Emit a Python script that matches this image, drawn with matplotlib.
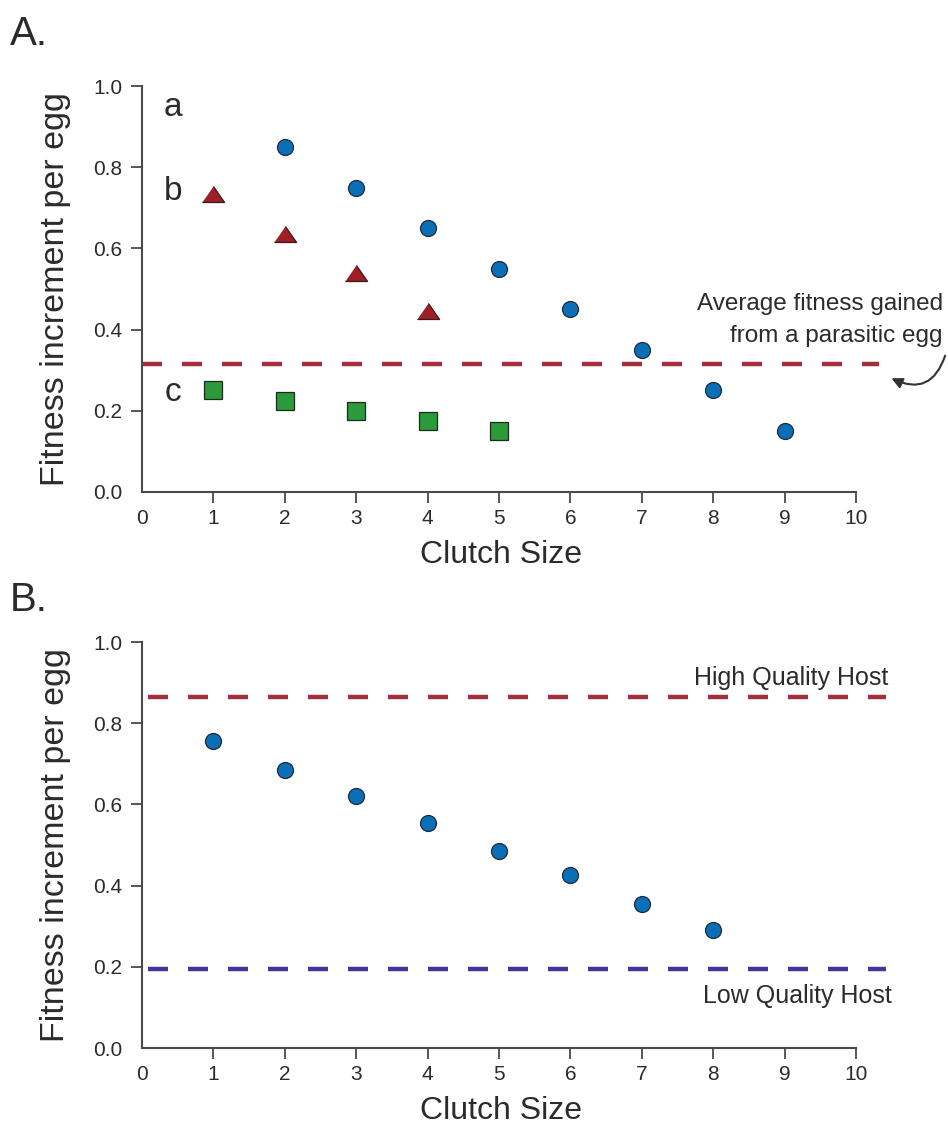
import matplotlib
matplotlib.use("Agg")
import matplotlib.pyplot as plt

# panel A data
a_x = [2, 3, 4, 5, 6, 7, 8, 9]
a_y = [0.85, 0.75, 0.65, 0.55, 0.45, 0.35, 0.25, 0.15]
b_x = [1, 2, 3, 4]
b_y = [0.735, 0.635, 0.54, 0.445]
c_x = [1, 2, 3, 4, 5]
c_y = [0.25, 0.225, 0.2, 0.175, 0.15]
parasitic_avg = 0.315

# panel B data
host_x = [1, 2, 3, 4, 5, 6, 7, 8]
host_y = [0.755, 0.685, 0.62, 0.555, 0.485, 0.425, 0.355, 0.29]
high_host = 0.865
low_host = 0.195

x_ticks = list(range(0, 11))
y_ticks = [0.0, 0.2, 0.4, 0.6, 0.8, 1.0]

plt.rcParams["font.family"] = ["Liberation Sans", "DejaVu Sans"]

W, H = 948, 1126
fig = plt.figure(figsize=(W / 100, H / 100), dpi=100)

BLUE = "#0b6fb8"
RED = "#9e1f26"
GREEN = "#2a9a3a"
RED_LINE = "#a2303a"
BLUE_LINE = "#42369a"
AX_COL = "#4a4a4a"
TXT = "#2b2b2b"

ax_a = fig.add_axes([142 / W, 1 - 492 / H, 737 / W, 406 / H])
ax_b = fig.add_axes([142 / W, 1 - 1048 / H, 744 / W, 406 / H])


def style_axes(ax, xmax):
    ax.set_xlim(0, xmax)
    ax.set_ylim(0, 1.0)
    for s in ["top", "right"]:
        ax.spines[s].set_visible(False)
    for s in ["left", "bottom"]:
        ax.spines[s].set_color(AX_COL)
        ax.spines[s].set_linewidth(1.5)
    ax.spines["bottom"].set_bounds(0, 10)
    ax.spines["left"].set_bounds(0, 1.0)
    ax.set_xticks(x_ticks)
    ax.set_yticks(y_ticks)
    ax.set_yticklabels([f"{v:.1f}" for v in y_ticks])
    ax.tick_params(axis="both", direction="out", length=8, width=1.3,
                   color=AX_COL, labelsize=15, labelcolor=TXT)
    ax.tick_params(axis="y", pad=6)
    ax.tick_params(axis="x", pad=4)
    ax.yaxis.get_major_ticks()[0].tick1line.set_visible(False)
    ax.xaxis.get_major_ticks()[0].tick1line.set_visible(False)
    ax.set_xlabel("Clutch Size", fontsize=23, color=TXT)
    ax.xaxis.label.set_va("baseline")
    ax.xaxis.set_label_coords(359 / (xmax * 71.4), -71 / 406)
    ax.set_ylabel("Fitness increment per egg", fontsize=24.5, color=TXT)
    ax.yaxis.label.set_va("baseline")
    ax.yaxis.set_label_coords(-78 / (xmax * 71.4), 0.5)


style_axes(ax_a, 10.32)
style_axes(ax_b, 10.42)

# ---- panel A ----
dash_lw = 3.2
ax_a.axhline(parasitic_avg, color=RED_LINE, lw=dash_lw,
             linestyle=(0, (4.5, 4.5)), zorder=1)
ax_a.plot(a_x, a_y, linestyle="none", marker="o", markersize=11.5,
          markerfacecolor=BLUE, markeredgecolor="#1d2a3a", markeredgewidth=0.9,
          zorder=3)
tri = [(-1, -0.72), (1, -0.72), (0, 0.72)]
ax_a.plot(b_x, b_y, linestyle="none", marker=tri, markersize=16,
          markerfacecolor=RED, markeredgecolor="#3a1a1a", markeredgewidth=0.9,
          zorder=3)
ax_a.plot(c_x, c_y, linestyle="none", marker="s", markersize=12.5,
          markerfacecolor=GREEN, markeredgecolor="#1f2a1f", markeredgewidth=0.9,
          zorder=3)

ax_a.text(0.43, 0.948, "a", fontsize=24, color=TXT, ha="center", va="center")
ax_a.text(0.43, 0.739, "b", fontsize=24, color=TXT, ha="center", va="center")
ax_a.text(0.43, 0.246, "c", fontsize=24, color=TXT, ha="center", va="center")

fig.text(943 / W, 1 - 310 / H, "Average fitness gained",
         fontsize=17.5, color=TXT, ha="right", va="baseline")
fig.text(942 / W, 1 - 342 / H, "from a parasitic egg",
         fontsize=17.5, color=TXT, ha="right", va="baseline")

ax_a.annotate("", xy=(889 / W, 1 - 377 / H), xycoords="figure fraction",
              xytext=(946 / W, 1 - 353 / H), textcoords="figure fraction",
              arrowprops=dict(arrowstyle="-|>", color="#333333", lw=1.5,
                              mutation_scale=16,
                              connectionstyle="arc3,rad=-0.6"))

# ---- panel B ----
ax_b.axhline(high_host, color=RED_LINE, lw=dash_lw,
             linestyle=(7.65, (4.5, 4.5)), zorder=1)
ax_b.axhline(low_host, color=BLUE_LINE, lw=dash_lw,
             linestyle=(7.65, (4.5, 4.5)), zorder=1)
ax_b.plot(host_x, host_y, linestyle="none", marker="o", markersize=11.5,
          markerfacecolor=BLUE, markeredgecolor="#1d2a3a", markeredgewidth=0.9,
          zorder=3)

ax_b.text(888 / W, 1 - 685 / H, "High Quality Host", transform=fig.transFigure,
          fontsize=18, color=TXT, ha="right", va="baseline")
ax_b.text(892 / W, 1 - 1003 / H, "Low Quality Host", transform=fig.transFigure,
          fontsize=18, color=TXT, ha="right", va="baseline")

# panel letters
fig.text(10 / W, 1 - 45 / H, "A.", fontsize=29, color=TXT, ha="left",
         va="baseline")
fig.text(10 / W, 1 - 611 / H, "B.", fontsize=29, color=TXT, ha="left",
         va="baseline")

fig.savefig("out.png", dpi=100)
